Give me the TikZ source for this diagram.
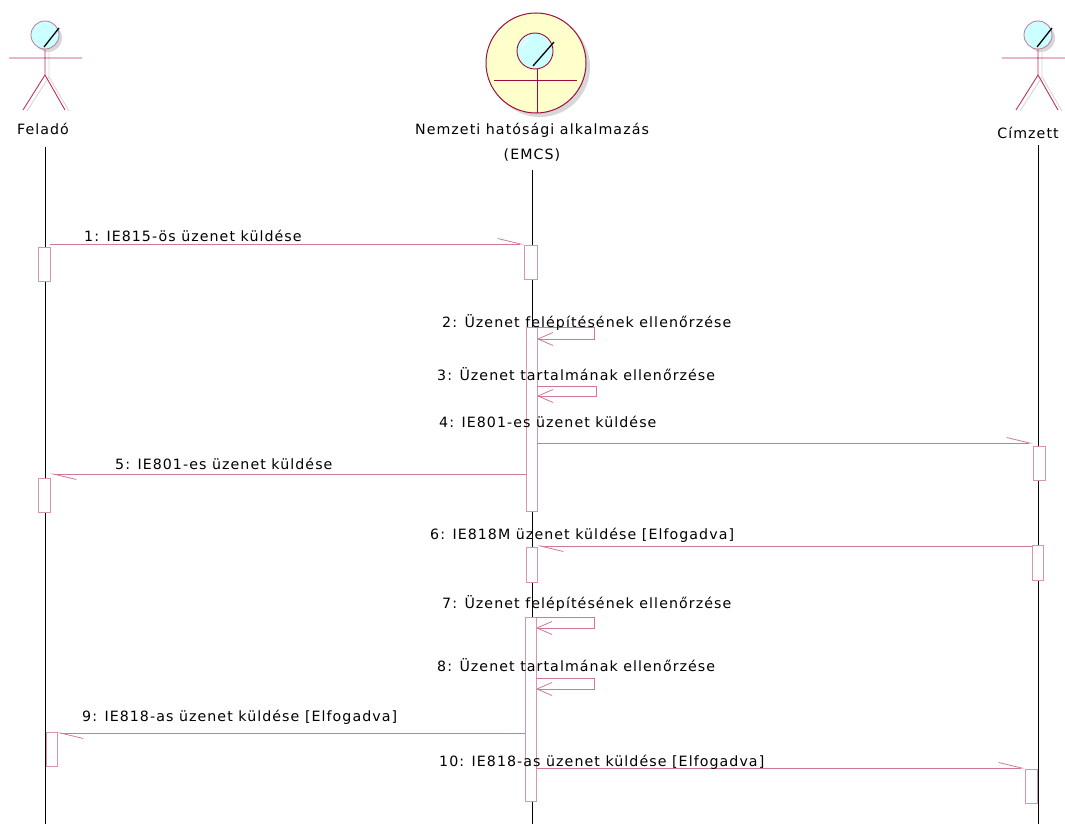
\documentclass[tikz,border=0pt]{standalone}
\usepackage{fontspec}
\setmainfont{DejaVu Sans}[LetterSpace=7.5]
\usetikzlibrary{arrows.meta,calc}
\definecolor{msgc}{RGB}{208,120,155}
\definecolor{actc}{RGB}{215,150,175}
\definecolor{figc}{RGB}{190,50,100}
\definecolor{headfill}{RGB}{204,255,255}
\definecolor{headline}{RGB}{190,120,160}
\definecolor{ctlfill}{RGB}{255,255,204}
\definecolor{ctlline}{RGB}{160,10,60}
\definecolor{shadowgray}{RGB}{215,215,215}
\tikzset{
  stickman/.pic={
    \draw[shadowgray, line width=0.9pt] (4,16) -- (4,42) -- (-18,76) (4,42) -- (24,76);
    \fill[shadowgray] (3,3) circle (14);
    \draw[figc, line width=0.9pt] (-36,23) -- (37,23) (0,14) -- (0,40) -- (-22,75) (0,40) -- (20,75);
    \draw[headline, fill=headfill, line width=0.8pt] (0,0) circle (14);
    \draw[black, line width=1.3pt] (-1,12) -- (14,-7);
  },
  lifeline/.style={draw=black, line width=0.7pt},
  actbox/.style={draw=actc, fill=white, line width=0.8pt, inner sep=0pt, outer sep=0pt, anchor=north west},
  msg/.style={draw=msgc, line width=0.8pt, -{Straight Barb[left,length=23pt,width=11pt]}},
  selfmsg/.style={draw=msgc, line width=0.8pt, -{Straight Barb[length=15pt,width=13pt]}},
  lbl/.style={anchor=base west, inner sep=0pt},
  actorlbl/.style={anchor=base, inner sep=0pt}
}
\begin{document}
\begin{tikzpicture}[x=1pt,y=-1pt,font=\fontsize{14.2}{16}\selectfont]
\useasboundingbox[fill=white] (0,0) rectangle (1065,824);

% actors
\pic (fig1) at (45,35) {stickman};
\pic (fig3) at (1038,35) {stickman};
% control icon
\fill[shadowgray] (540,67) circle (50);
\draw[ctlline, fill=ctlfill, line width=1pt] (536,63) circle (50);
\draw[ctlline, line width=1pt] (494,81) -- (577,81) (537,69) -- (537,113);
\draw[ctlline, fill=headfill, line width=0.9pt] (535,51) circle (18);
\draw[white, line width=1pt] (535,51) ++(195:13) arc (195:245:13);
\draw[black, line width=1.3pt] (533,66) -- (554,42);

\node[actorlbl] (felado) at (43,135) {Feladó};
\node[actorlbl] (emcs) at (532,135) {Nemzeti hatósági alkalmazás};
\node[actorlbl] (emcs2) at (532,159) {(EMCS)};
\node[actorlbl] (cimzett) at (1028,139) {Címzett};

% lifelines
\coordinate (ftop) at (45,147);
\coordinate (fbot) at (45,824);
\coordinate (etop) at (532,170);
\coordinate (ebot) at (532,824);
\coordinate (ctop) at (1038,145);
\coordinate (cbot) at (1038,824);
\draw[lifeline] (ftop) -- (fbot);
\draw[lifeline] (etop) -- (ebot);
\draw[lifeline] (ctop) -- (cbot);

% activation boxes
\node[actbox, minimum width=12, minimum height=34] (f1) at (38,247) {};
\node[actbox, minimum width=13, minimum height=34] (e1) at (524,245) {};
\node[actbox, minimum width=11, minimum height=184] (e2) at (526,327) {};
\node[actbox, minimum width=12, minimum height=34] (c1) at (1033,446) {};
\node[actbox, minimum width=12, minimum height=34] (f2) at (38,478) {};
\node[actbox, minimum width=11, minimum height=35] (e3) at (526,547) {};
\node[actbox, minimum width=11, minimum height=35] (c2) at (1032,545) {};
\node[actbox, minimum width=11, minimum height=184] (e4) at (525,617) {};
\node[actbox, minimum width=11, minimum height=34] (f3) at (46,732) {};
\node[actbox, minimum width=12, minimum height=34] (c3) at (1025,769) {};

% messages
\draw[msg] ($(f1.east |- e1.north west)+(0,-1)$) -- ($(e1.north west)+(0,-1)$);
\draw[selfmsg] (e2.north east) -- ++(57,0) -- ++(0,12) -- ++(-57,0);
\draw[selfmsg] ($(e2.north east)+(0,59)$) -- ++(59,0) -- ++(0,10) -- ++(-59,0);
\draw[msg] ($(e2.east |- c1.north)+(0,-3)$) -- ($(c1.north west)+(0,-3)$);
\draw[msg] ($(e2.west |- f2.north)+(0,-4)$) -- ($(f2.north east)+(0,-4)$);
\draw[msg] ($(c2.west |- e3.north)+(0,-1)$) -- ($(e3.north east)+(0,-1)$);
\draw[selfmsg] (e4.north east) -- ++(58,0) -- ++(0,11) -- ++(-58,0);
\draw[selfmsg] ($(e4.north east)+(0,61)$) -- ++(58,0) -- ++(0,11) -- ++(-58,0);
\draw[msg] ($(e4.west |- f3.north)+(0,1)$) -- ($(f3.north east)+(0,1)$);
\draw[msg] ($(e4.east |- c3.north)+(0,-1)$) -- ($(c3.north west)+(0,-1)$);

% labels
\node[lbl] (l1) at (84,241) {1: IE815-ös üzenet küldése};
\node[lbl] (l2) at (442,327) {2: Üzenet felépítésének ellenőrzése};
\node[lbl] (l3) at (437,380) {3: Üzenet tartalmának ellenőrzése};
\node[lbl] (l4) at (439,427) {4: IE801-es üzenet küldése};
\node[lbl] (l5) at (115,469) {5: IE801-es üzenet küldése};
\node[lbl] (l6) at (430,539) {6: IE818M üzenet küldése [Elfogadva]};
\node[lbl] (l7) at (442,608) {7: Üzenet felépítésének ellenőrzése};
\node[lbl] (l8) at (437,671) {8: Üzenet tartalmának ellenőrzése};
\node[lbl] (l9) at (82,721) {9: IE818-as üzenet küldése [Elfogadva]};
\node[lbl] (l10) at (439,766) {10: IE818-as üzenet küldése [Elfogadva]};
\end{tikzpicture}
\end{document}
